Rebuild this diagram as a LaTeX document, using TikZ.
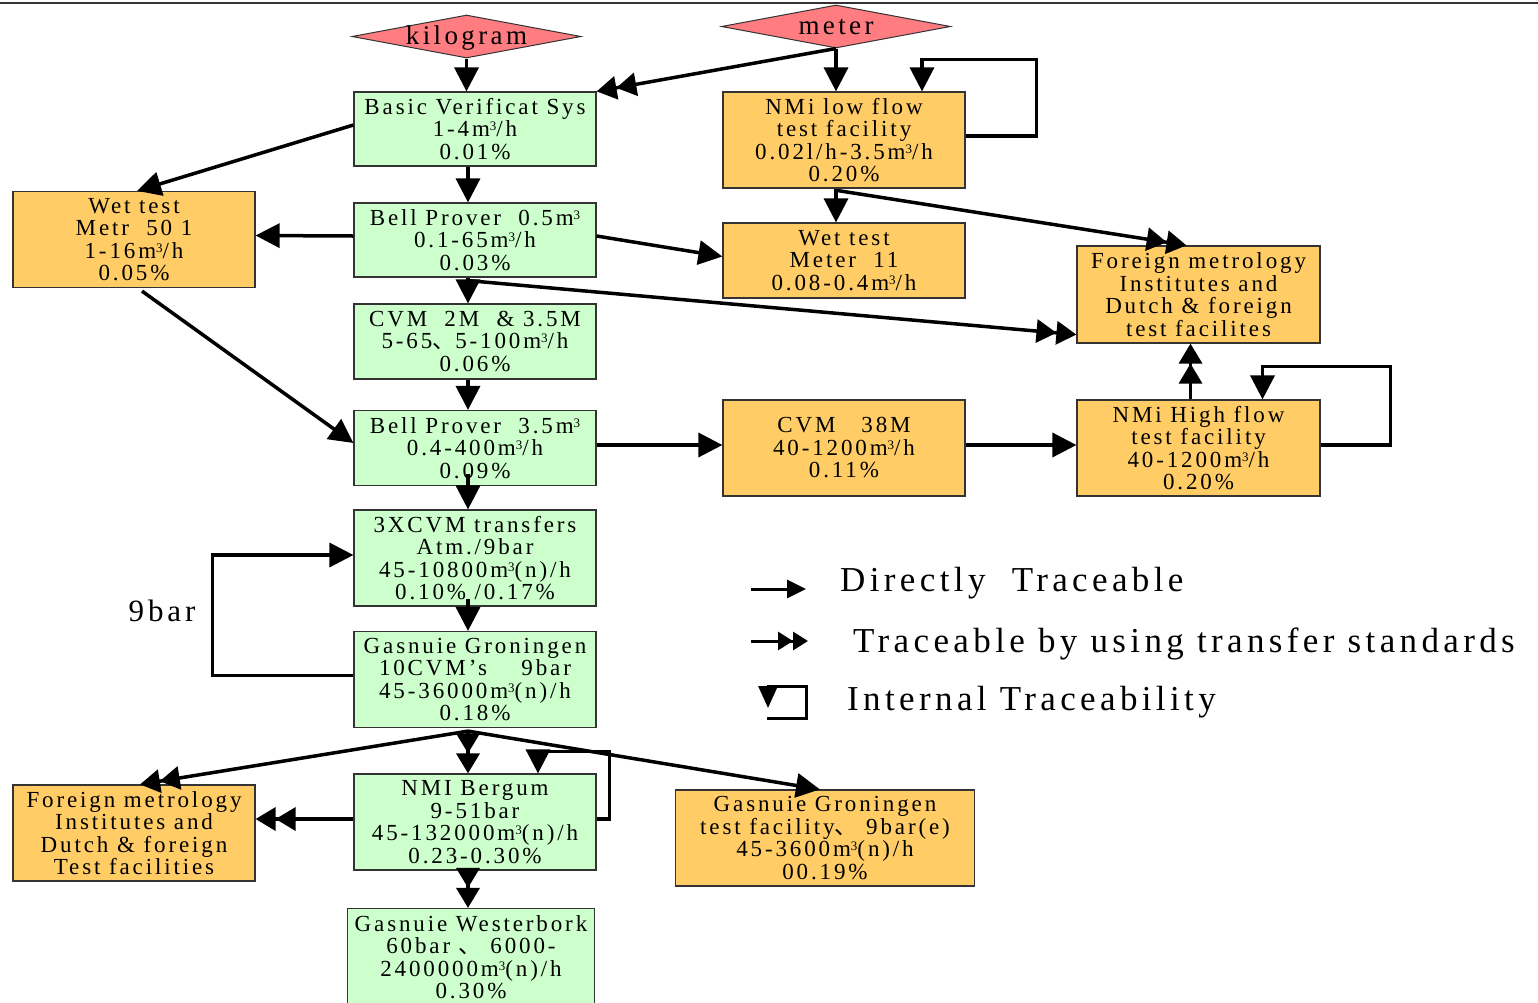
\documentclass[tikz,border=0pt]{standalone}
\usepackage{fontspec}
\setmainfont{Liberation Serif}
\newfontfamily\lsf[LetterSpace=12.5]{Liberation Serif}
\newfontfamily\cjkf{Noto Sans CJK SC}
\usetikzlibrary{arrows.meta,shapes.geometric,calc}
\definecolor{bgreen}{HTML}{CCFFCC}
\definecolor{borange}{HTML}{FFCC66}
\definecolor{dred}{HTML}{FF7C80}
\definecolor{edgegray}{HTML}{333333}
\newcommand{\cub}{\raisebox{6pt}{\fontsize{13}{13}\selectfont 3}}
\newcommand{\cjkcomma}{{\cjkf 、}}
\begin{document}
\begin{tikzpicture}[x=1pt,y=-1pt,
  boxbase/.style={rectangle,draw=edgegray,line width=1.2pt,inner sep=0pt,align=center,
    font=\lsf\fontsize{23}{22.5}\selectfont},
  gbox/.style={boxbase,fill=bgreen},
  obox/.style={boxbase,fill=borange},
  dia/.style={diamond,draw=edgegray,line width=1pt,fill=dred,inner sep=0pt,
    minimum width=229pt,minimum height=43pt},
  diatext/.style={font=\lsf\fontsize{27}{27}\selectfont,inner sep=0pt},
  lbltext/.style={font=\lsf\fontsize{31}{31}\selectfont,inner sep=0pt},
  legtext/.style={font=\lsf\fontsize{35}{35}\selectfont,inner sep=0pt,anchor=base west},
  dt/.style={line width=3.5pt,-{Triangle[length=24pt,width=24pt]}},
  tt/.style={line width=3.5pt,-{Triangle[length=20pt,width=23pt]Triangle[length=20pt,width=23pt]}},
  ldt/.style={line width=3pt,-{Triangle[length=19pt,width=18pt]}},
  ltt/.style={line width=3pt,-{Triangle[length=15pt,width=18pt]Triangle[length=15pt,width=18pt]}},
  lloop/.style={line width=3pt,-{Triangle[length=22pt,width=19pt]}}
]
\useasboundingbox (0,0) rectangle (1538,1002);
\fill[white] (0,0) rectangle (1538,1002);
\clip (0,0) rectangle (1538,1002);
\draw[edgegray,line width=1.5pt] (0,3) -- (1538,3);

% diamonds
\node[dia] (kg) at (466.5,36.5) {};
\node[diatext] (kgt) at (466.5,38) {kilogram};
\node[dia] (mt) at (836,26.5) {};
\node[diatext] (mtt) at (836,27.5) {meter};

% boxes
\node[gbox,minimum width=242pt,minimum height=74pt] (basic) at (475,129)
  {Basic Verificat Sys\\1-4m\cub/h\\0.01\%};
\node[obox,minimum width=242pt,minimum height=96pt] (nlow) at (844,140)
  {NMi low flow\\test facility\\0.02l/h-3.5m\cub/h\\0.20\%};
\node[obox,minimum width=242pt,minimum height=96pt] (wet501) at (134,239.5)
  {Wet test\\Metr~~50 1\\1-16m\cub/h\\0.05\%};
\node[gbox,minimum width=242pt,minimum height=74pt] (bell05) at (475,240)
  {Bell Prover~~0.5m\cub\\0.1-65m\cub/h\\0.03\%};
\node[obox,minimum width=242pt,minimum height=75pt] (wm11) at (844,260.5)
  {Wet test\\Meter~~11\\0.08-0.4m\cub/h};
\node[obox,minimum width=243pt,minimum height=97pt] (fm1) at (1198.5,294.5)
  {Foreign metrology\\Institutes and\\Dutch \& foreign\\test facilites};
\node[gbox,minimum width=242pt,minimum height=75pt] (cvm2) at (475,341.5)
  {CVM~~2M~~\& 3.5M\\5-65\cjkcomma 5-100m\cub/h\\0.06\%};
\node[gbox,minimum width=242pt,minimum height=75pt] (b35) at (475,448)
  {Bell Prover~~3.5m\cub\\0.4-400m\cub/h\\0.09\%};
\node[obox,minimum width=242pt,minimum height=96pt] (cvm38) at (844,448)
  {CVM~~~38M\\40-1200m\cub/h\\0.11\%};
\node[obox,minimum width=243pt,minimum height=96pt] (nh) at (1198.5,448)
  {NMi High flow\\test facility\\40-1200m\cub/h\\0.20\%};
\node[gbox,minimum width=242pt,minimum height=96pt] (x3) at (475,558)
  {3XCVM transfers\\Atm./9bar\\45-10800m\cub(n)/h\\0.10\% /0.17\%};
\node[gbox,minimum width=242pt,minimum height=96pt] (gg) at (475,679.5)
  {Gasnuie Groningen\\10CVM’s~~~~9bar\\45-36000m\cub(n)/h\\0.18\%};
\node[obox,minimum width=242pt,minimum height=96pt] (fm2) at (134,833)
  {Foreign metrology\\Institutes and\\Dutch \& foreign\\Test facilities};
\node[gbox,minimum width=242pt,minimum height=96pt] (berg) at (475,822)
  {NMI Bergum\\9-51bar\\45-132000m\cub(n)/h\\0.23-0.30\%};
\node[obox,minimum width=299pt,minimum height=96pt] (ggt) at (825,838)
  {Gasnuie Groningen\\test facility\cjkcomma~9bar(e)\\45-3600m\cub(n)/h\\00.19\%};
\node[gbox,minimum width=247pt,minimum height=97pt] (west) at (471,957)
  {Gasnuie Westerbork\\60bar \cjkcomma~6000-\\2400000m\cub(n)/h\\0.30\%};

\node[lbltext] (lbl9) at (162,611) {9bar};

% connectors
\draw[dt] (kg.south) -- (kg.south |- basic.north);
\draw[tt] (mt.south) -- (basic.north east);
\draw[dt] (mt.south) -- (mt.south |- nlow.north);
\draw[dt] ($(nlow.east)+(0,-4)$) -- ++(71,0) |- ($(nlow.north)+(78,-32)$) -- ($(nlow.north)+(78,0)$);
\draw[dt] ($(basic.west)+(0,-4)$) -- ($(wet501.north)+(3,0)$);
\draw[dt] ($(basic.south)+(-7,0)$) -- ($(bell05.north)+(-7,0)$);
\draw[dt] ($(bell05.west)+(0,-4)$) -- ($(wet501.east)+(0,-4)$);
\draw[dt] ($(bell05.east)+(0,-4)$) -- ($(wm11.west)+(0,-4)$);
\draw[dt] ($(nlow.south)+(-8,0)$) -- ($(wm11.north)+(-8,0)$);
\draw[tt] ($(nlow.south)+(-6,2)$) -- ($(fm1.north)+(-12,0)$);
\draw[tt] ($(bell05.south)+(-7,3)$) -- ($(fm1.south west)+(0,-9)$);
\draw[dt] ($(bell05.south)+(-7,0)$) -- ($(cvm2.north)+(-7,0)$);
\draw[dt] ($(cvm2.south)+(-7,0)$) -- ($(b35.north)+(-7,0)$);
\draw[dt] ($(wet501.south)+(8,3)$) -- ($(b35.west)+(0,-5)$);
\draw[dt] ($(b35.east)+(0,-3)$) -- ($(cvm38.west)+(0,-3)$);
\draw[dt] ($(cvm38.east)+(0,-3)$) -- ($(nh.west)+(0,-3)$);
\draw[tt] ($(nh.north)+(-8,0)$) -- ($(fm1.south)+(-8,0)$);
\draw[dt] ($(nh.east)+(0,-3)$) -- ++(70,0) |- ($(nh.north)+(64,-33)$) -- ($(nh.north)+(64,0)$);
\draw[dt] ($(b35.south)+(-7,-12)$) -- ($(x3.north)+(-7,0)$);
\draw[dt] ($(x3.south)+(-7,-8)$) -- ($(gg.north)+(-7,0)$);
\draw[dt] ($(gg.west)+(0,-4)$) -- ++(-141,0) |- ($(x3.west)+(0,-3)$);
\draw[tt] ($(gg.south)+(-7,3)$) -- ($(fm2.north)+(6,0)$);
\draw[tt] ($(gg.south)+(-7,3)$) -- ($(berg.north)+(-7,0)$);
\draw[dt] ($(gg.south)+(-7,3)$) -- ($(ggt.north)+(-5,0)$);
\draw[dt] ($(berg.east)+(0,-3)$) -- ++(13,0) |- ($(berg.north)+(63,-22)$) -- ($(berg.north)+(63,0)$);
\draw[tt] ($(berg.west)+(0,-3)$) -- ($(fm2.east)+(0,-14)$);
\draw[tt] ($(berg.south)+(-7,0)$) -- ($(west.north)+(-3,0)$);

% legend
\coordinate (la1) at (751,589);
\coordinate (lb1) at (806,589);
\coordinate (la2) at (751,641);
\coordinate (lb2) at (808,641);
\coordinate (lc0) at (767,718);
\coordinate (lc1) at (806,718);
\coordinate (lc2) at (806,686);
\coordinate (lc3) at (768,686);
\coordinate (lc4) at (768,708);
\draw[ldt] (la1) -- (lb1);
\draw[ltt] (la2) -- (lb2);
\draw[lloop] (lc0) -- (lc1) -- (lc2) -- (lc3) -- (lc4);
\node[legtext] (lt1) at (840,591) {Directly~~Traceable};
\node[legtext] (lt2) at (853,652) {Traceable by using transfer standards};
\node[legtext] (lt3) at (847,710) {Internal Traceability};
\end{tikzpicture}
\end{document}
